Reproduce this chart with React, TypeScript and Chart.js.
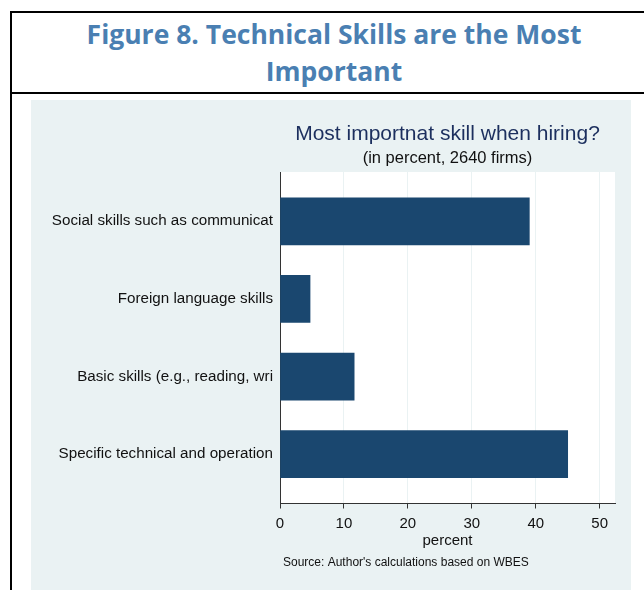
import React, { useEffect, useRef } from "react";
import { Chart, registerables } from "chart.js";

Chart.register(...registerables);

const categories = [
  "Social skills such as communicat",
  "Foreign language skills",
  "Basic skills (e.g., reading, wri",
  "Specific technical and operation",
];
const percentValues = [39.0, 4.7, 11.6, 45.0];
const xTickValues = [0, 10, 20, 30, 40, 50];
const xMax = 52.4;

const chartTitle = "Most importnat skill when hiring?";
const chartSubtitle = "(in percent, 2640 firms)";
const xAxisTitle = "percent";
const sourceNote = "Source: Author's calculations based on WBES";
const figureHeadingLines = ["Figure 8. Technical Skills are the Most", "Important"];

const FONT = "'Liberation Sans', Arial, Helvetica, sans-serif";

const textPlugin = {
  id: "stataTexts",
  afterDraw(chart: any) {
    const ctx = chart.ctx;
    const area = chart.chartArea;
    const cx = (area.left + area.right) / 2;
    ctx.save();
    ctx.textAlign = "center";
    ctx.textBaseline = "alphabetic";
    ctx.fillStyle = "#1c2f5e";
    ctx.font = `21px ${FONT}`;
    ctx.fillText(chartTitle, cx, 40);
    ctx.fillStyle = "#111";
    ctx.font = `16.5px ${FONT}`;
    ctx.fillText(chartSubtitle, cx, 63);
    ctx.font = `15px ${FONT}`;
    ctx.fillText(xAxisTitle, cx, 445);
    ctx.textAlign = "left";
    ctx.font = `12px ${FONT}`;
    ctx.fillText(sourceNote, 252, 466);
    ctx.restore();
  },
};

function BarChart() {
  const ref = useRef<HTMLCanvasElement | null>(null);
  useEffect(() => {
    if (!ref.current) return;
    const chart = new Chart(ref.current, {
      type: "bar",
      data: {
        datasets: [
          {
            data: percentValues.map((v, i) => ({ x: v, y: i })),
            backgroundColor: "#1a476f",
            borderWidth: 0,
            barThickness: 47,
          },
        ],
      },
      options: {
        indexAxis: "y",
        animation: false,
        responsive: false,
        maintainAspectRatio: false,
        layout: { padding: { top: 72, right: 16, left: 0, bottom: 0 } },
        plugins: {
          legend: { display: false },
          tooltip: { enabled: false },
          title: { display: false },
        },
        scales: {
          x: {
            type: "linear",
            min: 0,
            max: xMax,
            offset: false,
            afterBuildTicks: (s: any) => {
              s.ticks = xTickValues.map((v) => ({ value: v }));
            },
            afterFit: (s: any) => {
              s.height = 86.5;
            },
            grid: {
              color: "#eaf2f3",
              lineWidth: 1,
              drawTicks: true,
              tickLength: 5,
              tickColor: "#333",
            },
            border: { display: true, color: "#333", width: 1 },
            ticks: {
              color: "#111",
              font: { family: FONT, size: 15 },
              padding: 6,
              maxRotation: 0,
            },
          },
          y: {
            type: "linear",
            reverse: true,
            offset: false,
            min: -0.635,
            max: 3.635,
            afterBuildTicks: (s: any) => {
              s.ticks = categories.map((_, i) => ({ value: i }));
            },
            afterFit: (s: any) => {
              s.width = 249;
            },
            grid: { display: false, drawTicks: false, offset: false },
            border: { display: true, color: "#333", width: 1 },
            ticks: {
              color: "#111",
              font: { family: FONT, size: 15.2 },
              padding: 7,
              callback: (v: any) => categories[Math.round(Number(v))] ?? "",
            },
          },
        },
      },
      plugins: [
        textPlugin,
        {
          id: "plotBg",
          beforeDraw(c: any) {
            const a = c.chartArea;
            c.ctx.save();
            c.ctx.fillStyle = "#ffffff";
            c.ctx.fillRect(a.left, a.top, a.right - a.left, a.bottom - a.top);
            c.ctx.restore();
          },
        },
      ],
    } as any);
    return () => chart.destroy();
  }, []);
  return <canvas ref={ref} width={600} height={490} style={{ display: "block" }} />;
}

export default function App() {
  return (
    <div
      style={{
        position: "absolute",
        left: 0,
        top: 0,
        width: 644,
        height: 590,
        background: "#fff",
        overflow: "hidden",
      }}
    >
      <div style={{ position: "absolute", left: 10, top: 11, width: 640, height: 2, background: "#000" }} />
      <div style={{ position: "absolute", left: 10, top: 11, width: 2, height: 590, background: "#000" }} />
      <div style={{ position: "absolute", left: 10, top: 92, width: 640, height: 2, background: "#000" }} />
      <div
        style={{
          position: "absolute",
          left: 34,
          top: 16,
          width: 600,
          textAlign: "center",
          fontFamily: "'Open Sans', Lato, sans-serif",
          fontWeight: 700,
          fontSize: 26.5,
          lineHeight: "37px",
          color: "#4a7fb2",
        }}
      >
        {figureHeadingLines.map((l, i) => (
          <div key={i}>{l}</div>
        ))}
      </div>
      <div style={{ position: "absolute", left: 31, top: 100, width: 600, height: 490, background: "#eaf2f3" }}>
        <BarChart />
      </div>
    </div>
  );
}
